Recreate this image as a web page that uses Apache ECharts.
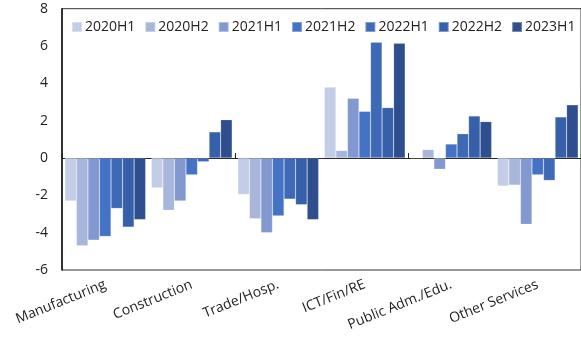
<!DOCTYPE html>
<html>
<head>
<meta charset="utf-8">
<script src="https://cdn.jsdelivr.net/npm/echarts@6/dist/echarts.min.js"></script>
<style>
  html, body { margin: 0; padding: 0; background: #fff; }
  #chart { width: 581px; height: 341px; }
</style>
</head>
<body>
<div id="chart"></div>
<script>
// Sectors on the x axis
const categories = ['Manufacturing', 'Construction', 'Trade/Hosp.', 'ICT/Fin/RE', 'Public Adm./Edu.', 'Other Services'];

// Half-year periods (one bar per period in each sector)
const periods = ['2020H1', '2020H2', '2021H1', '2021H2', '2022H1', '2022H2', '2023H1'];

// Values per period, in sector order
const v2020H1 = [-2.3, -1.6, -1.95, 3.8, 0.0, -1.5];
const v2020H2 = [-4.7, -2.8, -3.25, 0.4, 0.45, -1.45];
const v2021H1 = [-4.4, -2.3, -4.0, 3.2, -0.6, -3.55];
const v2021H2 = [-4.2, -0.9, -3.1, 2.5, 0.75, -0.9];
const v2022H1 = [-2.7, -0.2, -2.2, 6.2, 1.3, -1.2];
const v2022H2 = [-3.7, 1.4, -2.5, 2.7, 2.25, 2.2];
const v2023H1 = [-3.3, 2.05, -3.3, 6.15, 1.95, 2.85];

const seriesValues = [v2020H1, v2020H2, v2021H1, v2021H2, v2022H1, v2022H2, v2023H1];
const colors = ['#c3cde7', '#a8b6dc', '#8198d1', '#4472c4', '#3d69b6', '#3660a9', '#2e4e8e'];

// Y axis range and step
const yMin = -6, yMax = 8, yStep = 2;

const FONT = '"Open Sans", "Noto Sans", sans-serif';

const chart = echarts.init(document.getElementById('chart'), null, { renderer: 'canvas' });

chart.setOption({
  animation: false,
  color: colors,
  textStyle: { fontFamily: FONT },
  grid: {
    left: 62, right: -2, top: 8.7, bottom: 71,
    show: true, borderColor: '#333', borderWidth: 1, backgroundColor: 'transparent'
  },
  legend: {
    data: periods,
    left: 71, top: 20, width: 520, padding: 0,
    icon: 'rect', itemWidth: 10, itemHeight: 10, itemGap: 9,
    textStyle: { fontFamily: FONT, fontSize: 14, color: '#222', padding: [0, 0, 0, -2] }
  },
  xAxis: [
    {
      type: 'category',
      data: categories,
      position: 'bottom',
      axisLine: { show: false, onZero: false },
      axisTick: { show: false },
      axisLabel: {
        interval: 0, rotate: 22, margin: 14,
        fontFamily: FONT, fontSize: 14, color: '#222'
      }
    },
    {
      type: 'category',
      data: categories,
      position: 'bottom',
      axisLine: { show: true, onZero: true, lineStyle: { color: '#222', width: 1 } },
      axisTick: { show: true, inside: true, length: 5, lineStyle: { color: '#222' } },
      axisLabel: { show: false }
    }
  ],
  yAxis: {
    type: 'value',
    min: yMin, max: yMax, interval: yStep,
    axisLine: { show: true, lineStyle: { color: '#111', width: 1.5 } },
    axisTick: { show: false },
    splitLine: { show: false },
    axisLabel: { margin: 14, fontFamily: FONT, fontSize: 14, color: '#222' }
  },
  series: periods.map((name, i) => ({
    name: name,
    type: 'bar',
    xAxisIndex: 0,
    data: seriesValues[i],
    barGap: '0%',
    barCategoryGap: '6.6%',
    itemStyle: { borderColor: 'rgba(255,255,255,0.35)', borderWidth: 0.5 }
  }))
});
</script>
</body>
</html>
